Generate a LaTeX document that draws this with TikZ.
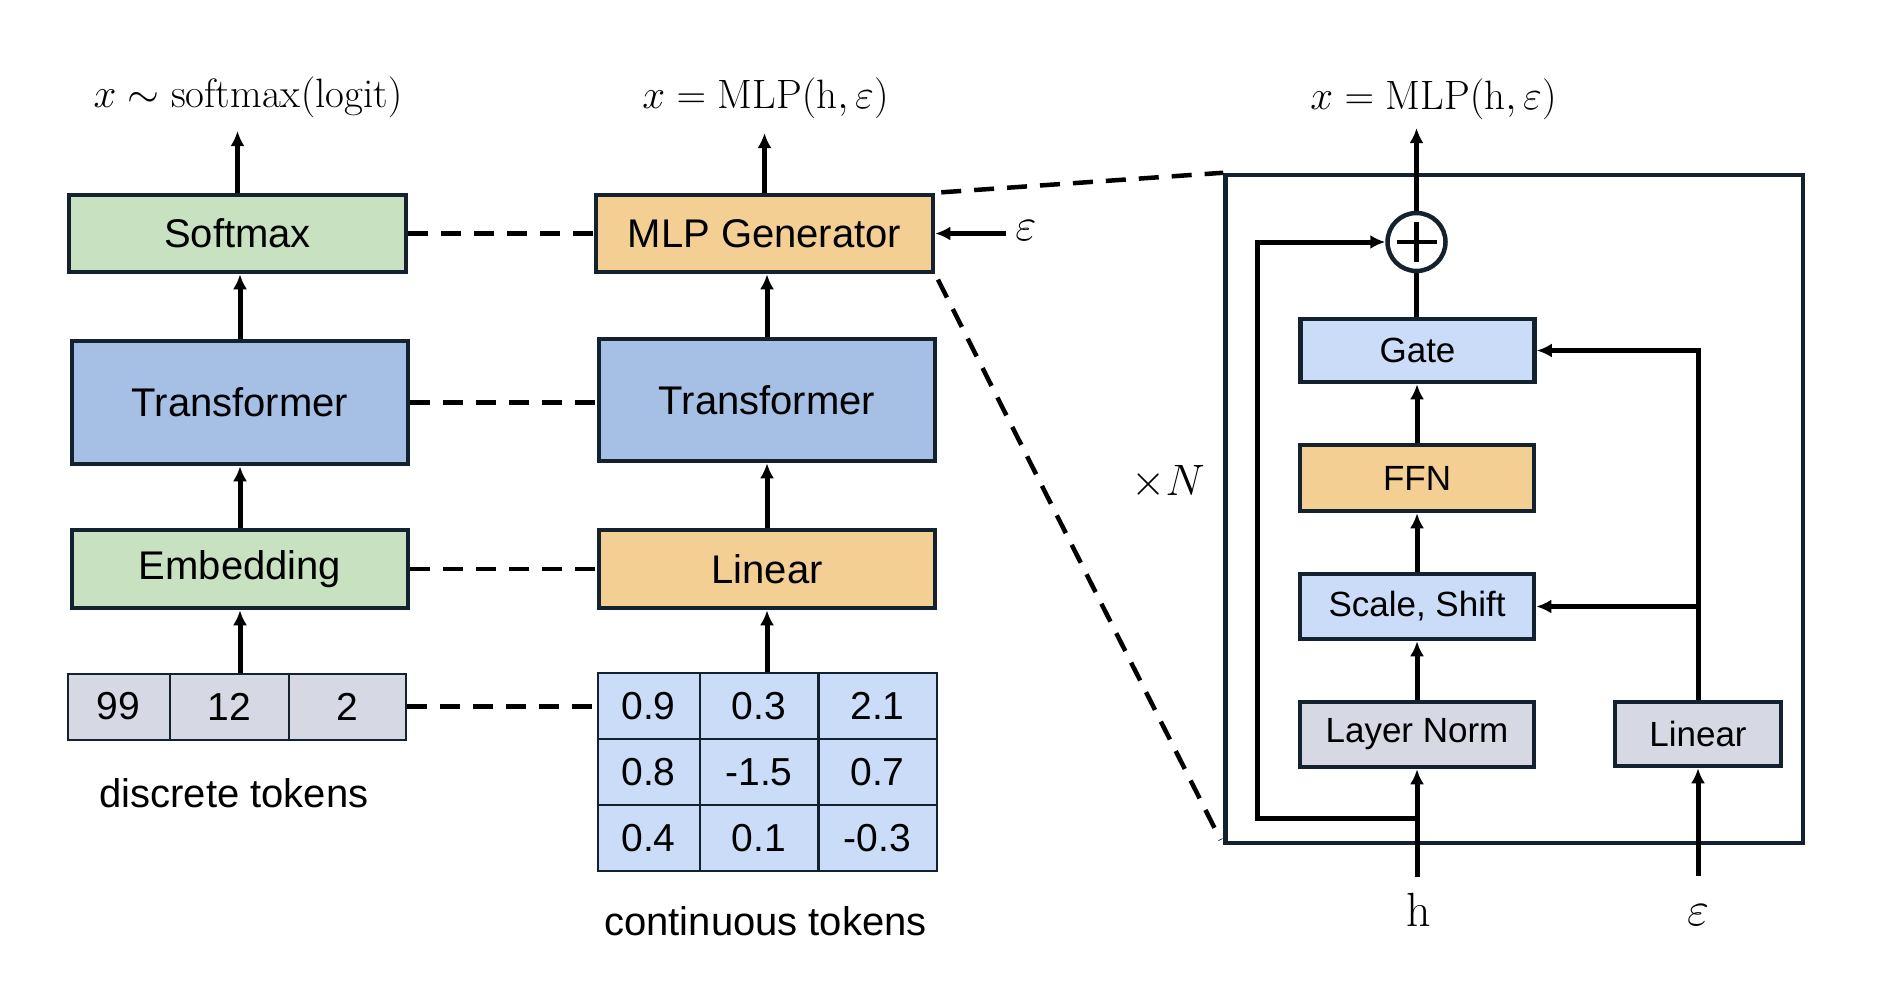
\RequirePackage{fix-cm}
\documentclass[tikz,border=0pt]{standalone}
\usepackage{fontspec}
\setsansfont{Liberation Sans}
\usepackage{xcolor}
\usetikzlibrary{arrows.meta}

\definecolor{edgeC}{HTML}{14222F}
\definecolor{greenC}{HTML}{C8E2C1}
\definecolor{blueC}{HTML}{A6BFE5}
\definecolor{orangeC}{HTML}{F3CF94}
\definecolor{lightC}{HTML}{CBDCF8}
\definecolor{grayC}{HTML}{D6D8E4}

\begin{document}
\begin{tikzpicture}[x=1pt,y=-1pt,
blk/.style={draw=edgeC,line width=4.5pt,inner sep=0pt,font=\sffamily\fontsize{40}{48}\selectfont},
sub/.style={draw=edgeC,line width=4.5pt,inner sep=0pt,minimum width=234pt,font=\sffamily\fontsize{35}{42}\selectfont},
cell/.style={draw=edgeC,line width=2pt,inner sep=0pt,font=\sffamily\fontsize{39}{46}\selectfont},
captxt/.style={font=\sffamily\fontsize{40}{48}\selectfont},
lab/.style={font=\fontsize{41}{49}\selectfont},
arr/.style={-{Latex[length=15pt,width=14pt]},line width=5pt},
lnk/.style={line width=4.5pt,dash pattern=on 20pt off 13pt},
]
\useasboundingbox (0,0) rectangle (1884,1002);

% discrete branch
\node[blk,fill=greenC,minimum width=337pt,minimum height=77pt] (soft) at (237.5,233.5) {Softmax};
\node[blk,fill=blueC,minimum width=336pt,minimum height=123pt] (trL) at (240,402.5) {Transformer};
\node[blk,fill=greenC,minimum width=336pt,minimum height=78pt] (emb) at (240,569) {Embedding};
\foreach \v/\cx/\w [count=\i] in {99/118.5/102,12/229.5/119,2/347.5/117}
  \node[cell,fill=grayC,minimum width=\w pt,minimum height=66pt] (tok\i) at (\cx,706.5) {\v};
\node[captxt] (dtok) at (234,793) {discrete tokens};
\node[lab,anchor=base] (outL) at (248,107) {$x \sim \mathrm{softmax}(\mathrm{logit})$};
\coordinate (topL) at (237.5,131);

% continuous branch
\node[blk,fill=orangeC,minimum width=337pt,minimum height=77pt] (gen) at (764.5,233.5) {MLP Generator};
\node[blk,fill=blueC,minimum width=336pt,minimum height=122pt] (trR) at (767,400) {Transformer};
\node[blk,fill=orangeC,minimum width=336pt,minimum height=78pt] (lin) at (767,569) {Linear};
\foreach \cy/\a/\b/\c [count=\r] in {706/0.9/0.3/2.1,772/0.8/-1.5/0.7,838/0.4/0.1/-0.3}{
  \node[cell,fill=lightC,minimum width=102pt,minimum height=66pt] (g\r1) at (648.5,\cy) {\a};
  \node[cell,fill=lightC,minimum width=118pt,minimum height=66pt] (g\r2) at (759,\cy) {\b};
  \node[cell,fill=lightC,minimum width=118pt,minimum height=66pt] (g\r3) at (877.5,\cy) {\c};
}
\node[captxt] (ctok) at (765.5,921) {continuous tokens};
\node[lab,anchor=base] (outR) at (765.5,108) {$x = \mathrm{MLP}(\mathrm{h}, \varepsilon)$};
\coordinate (topR) at (764.5,133);
\node[lab,font=\fontsize{46}{52}\selectfont] (epsG) at (1026,231) {$\varepsilon$};

\draw[arr] (soft.north) -- (topL);
\draw[arr] (trL.north) -- (trL.north |- soft.south);
\draw[arr] (emb.north) -- (emb.north |- trL.south);
\draw[arr] (emb.south |- tok2.north) -- (emb.south);
\draw[arr] (gen.north) -- (topR);
\draw[arr] (trR.north) -- (trR.north |- gen.south);
\draw[arr] (lin.north) -- (lin.north |- trR.south);
\draw[arr] (lin.south |- g12.north) -- (lin.south);
\draw[arr,shorten <=6pt] (epsG.west |- gen.east) -- (gen.east);

\draw[lnk] (soft.east) -- (gen.west);
\draw[lnk] (trL.east) -- (trL.east -| trR.west);
\draw[lnk] (emb.east) -- (lin.west);
\draw[lnk] (tok3.east) -- (tok3.east -| g11.west);

% generator block
\node[draw=edgeC,line width=4.5pt,minimum width=577.5pt,minimum height=668pt] (blockbox) at (1514.25,509) {};
\draw[lnk,shorten <=6pt] (gen.north east) -- (blockbox.north west);
\draw[lnk,shorten <=6pt,shorten >=6pt] (gen.south east) -- (blockbox.south west);

\node[circle,draw=edgeC,line width=4.5pt,minimum size=58pt,inner sep=0pt] (sum) at (1416.5,242) {};
\draw[line width=4.5pt] (sum.center) ++(-20,0) -- ++(40,0);
\draw[line width=4.5pt] (sum.center) ++(0,-20) -- ++(0,40);
\node[sub,fill=lightC,minimum height=63pt] (gate) at (1417.5,350.5) {Gate};
\node[sub,fill=orangeC,minimum height=66pt] (ffn) at (1417,478) {FFN};
\node[sub,fill=lightC,minimum height=65pt] (ss) at (1417,606.5) {Scale, Shift};
\node[sub,fill=grayC,minimum height=65pt] (ln) at (1417,734.5) {Layer Norm};
\node[sub,fill=grayC,minimum width=166pt,minimum height=64pt] (linS) at (1698,734) {Linear};
\node[lab,font=\fontsize{44}{52}\selectfont] (rep) at (1168,482) {$\times N$};

\node[lab,anchor=base] (outI) at (1433.5,109) {$x = \mathrm{MLP}(\mathrm{h}, \varepsilon)$};
\node[lab,font=\fontsize{48}{56}\selectfont,anchor=base] (hIn) at (1419,926) {$\mathrm{h}$};
\node[lab,font=\fontsize{48}{56}\selectfont,anchor=base] (eIn) at (1698,925) {$\varepsilon$};
\coordinate (topI) at (1416.5,128);
\coordinate (hTail) at (1417,877);
\coordinate (eTail) at (1698,876);
\coordinate (resBot) at (1417,818);
\coordinate (resTop) at (1257,242);

\draw[arr] (hTail) -- (ln.south);
\draw[arr] (eTail) -- (linS.south);
\draw[arr] (ln.north) -- (ss.south);
\draw[arr] (ss.north) -- (ffn.south);
\draw[arr] (ffn.north) -- (ffn.north |- gate.south);
\draw[line width=5pt] (gate.north -| sum.south) -- (sum.south);
\draw[arr] (sum.north) -- (topI);
\draw[arr] (resBot) -| (resTop) -- (sum.west);
\draw[arr] (linS.north) |- (gate.east);
\draw[arr] (linS.north |- ss.east) -- (ss.east);
\end{tikzpicture}
\end{document}
